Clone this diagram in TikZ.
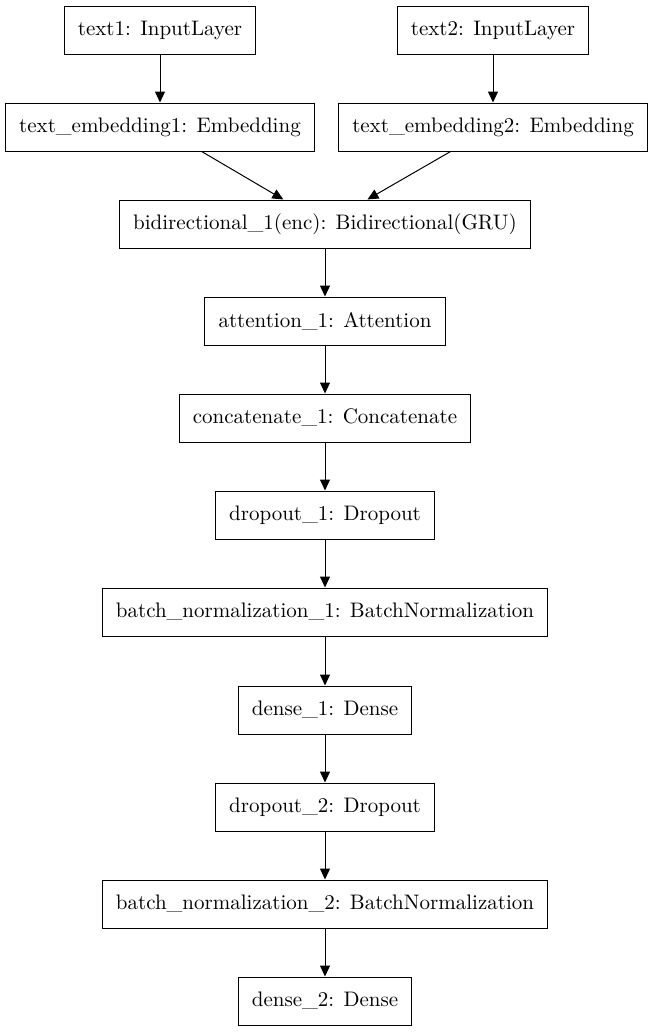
\documentclass[tikz,border=0pt]{standalone}
\usetikzlibrary{arrows.meta}

\tikzset{
  layer/.style={draw, line width=0.5pt, minimum height=24pt, inner xsep=6.8pt, font=\fontsize{10.5}{12}\selectfont},
  flow/.style={-{Triangle[length=5.5pt,width=5pt]}, line width=0.5pt}
}

\begin{document}
\begin{tikzpicture}[x=0.5pt, y=-0.5pt]
\useasboundingbox (0,0) rectangle (653,1033);

\node [layer] at (160, 30) (in1) {text1: InputLayer};
\node [layer] at (493, 30) (in2) {text2: InputLayer};
\node [layer] at (160, 127) (emb1) {text\_embedding1: Embedding};
\node [layer] at (493, 127) (emb2) {text\_embedding2: Embedding};
\node [layer] at (325, 224) (enc) {bidirectional\_1(enc): Bidirectional(GRU)};
\node [layer] at (325, 321) (att) {attention\_1: Attention};
\node [layer] at (325, 418) (cat) {concatenate\_1: Concatenate};
\node [layer] at (325, 515) (drop1) {dropout\_1: Dropout};
\node [layer] at (325, 612) (bn1) {batch\_normalization\_1: BatchNormalization};
\node [layer] at (325, 710) (dense1) {dense\_1: Dense};
\node [layer] at (325, 807) (drop2) {dropout\_2: Dropout};
\node [layer] at (325, 904) (bn2) {batch\_normalization\_2: BatchNormalization};
\node [layer] at (325, 1001) (dense2) {dense\_2: Dense};

\draw [flow] (in1) to (emb1);
\draw [flow] (in2) to (emb2);
\draw [flow] (emb1) to (enc);
\draw [flow] (emb2) to (enc);
\draw [flow] (enc) to (att);
\draw [flow] (att) to (cat);
\draw [flow] (cat) to (drop1);
\draw [flow] (drop1) to (bn1);
\draw [flow] (bn1) to (dense1);
\draw [flow] (dense1) to (drop2);
\draw [flow] (drop2) to (bn2);
\draw [flow] (bn2) to (dense2);
\end{tikzpicture}
\end{document}
